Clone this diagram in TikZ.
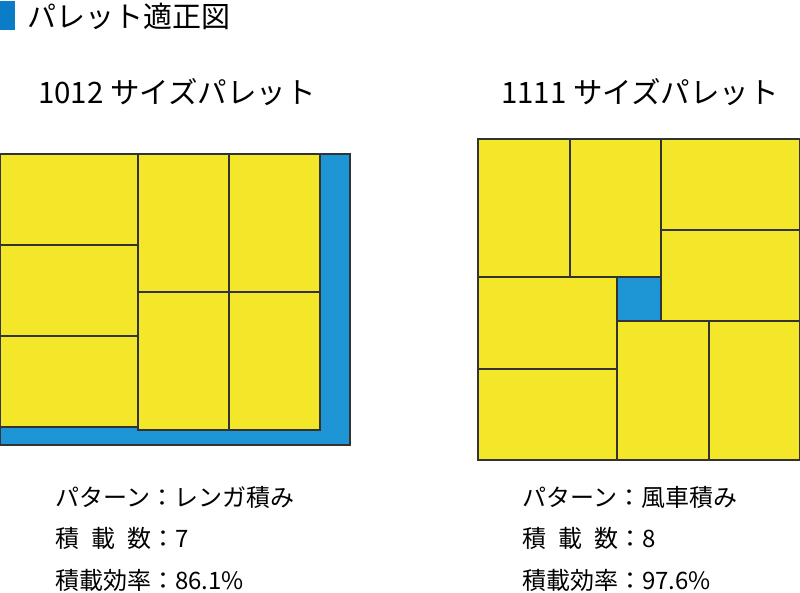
\documentclass[tikz,border=0pt]{standalone}
\usepackage{fontspec}
\setmainfont{Noto Sans CJK JP}
\usetikzlibrary{positioning}
\definecolor{loadyellow}{HTML}{F4E72A}
\definecolor{gapblue}{HTML}{1E96D6}
\definecolor{markblue}{HTML}{0B7CC6}
\definecolor{edgegray}{HTML}{333333}
\tikzset{
%Define style for cartons and pallet
carton/.style={fill=loadyellow, draw=edgegray, line width=1.2pt},
pallet/.style={fill=gapblue, draw=edgegray, line width=1.2pt},
%Define style for texts
heading/.style={font=\fontsize{29.5}{31}\selectfont, inner sep=0pt},
info/.style={font=\fontsize{24}{26}\selectfont, inner sep=0pt, anchor=west},
}

\begin{document}
\begin{tikzpicture}[x=1pt,y=-1pt]
    \useasboundingbox (0,0) rectangle (800,593);
    % Title
    \fill[markblue] (0,1) rectangle (15,30);
    \node[heading, anchor=west, font=\fontsize{29}{31}\selectfont] (title) at (27,16) {パレット適正図};

    % 1012 pallet, brick pattern
    \node[heading] (head1012) at (177,92) {1012 サイズパレット};
    \draw[pallet] (0,154) rectangle (350,445);
    \draw[carton] (0,154) rectangle (138,245);
    \draw[carton] (0,245) rectangle (138,336);
    \draw[carton] (0,336) rectangle (138,427);
    \draw[carton] (138,154) rectangle (229,292);
    \draw[carton] (229,154) rectangle (320,292);
    \draw[carton] (138,292) rectangle (229,430);
    \draw[carton] (229,292) rectangle (320,430);

    % 1111 pallet, pinwheel pattern
    \node[heading] (head1111) at (640,92) {1111 サイズパレット};
    \draw[pallet] (478,139) rectangle (800,460);
    \draw[carton] (478,139) rectangle (570,277);
    \draw[carton] (570,139) rectangle (661,277);
    \draw[carton] (661,139) rectangle (800,230);
    \draw[carton] (661,230) rectangle (800,321);
    \draw[carton] (478,277) rectangle (617,369);
    \draw[carton] (478,369) rectangle (617,460);
    \draw[carton] (617,321) rectangle (709,460);
    \draw[carton] (709,321) rectangle (800,460);

    % Figures
    \node[info] (pattern1012) at (55,497) {パターン：レンガ積み};
    \node[info] (count1012) at (55,538) {積\hspace{0.5em}載\hspace{0.5em}数：7};
    \node[info] (ratio1012) at (55,580) {積載効率：86.1\%};
    \node[info] (pattern1111) at (522,497) {パターン：風車積み};
    \node[info] (count1111) at (522,538) {積\hspace{0.5em}載\hspace{0.5em}数：8};
    \node[info] (ratio1111) at (522,580) {積載効率：97.6\%};
\end{tikzpicture}
\end{document}
